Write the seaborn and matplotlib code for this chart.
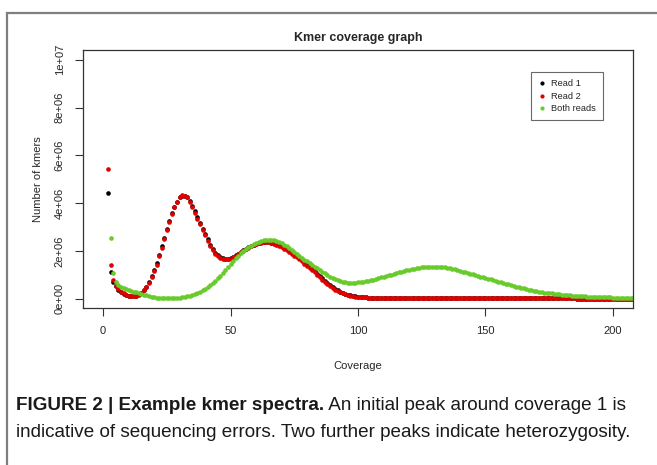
import pandas as pd
import seaborn as sns
import matplotlib.pyplot as plt
from matplotlib import font_manager
from matplotlib.patches import Rectangle
from matplotlib.lines import Line2D

# kmer counts (millions) per coverage value
cov_reads = list(range(2, 209))
cov_both = list(range(3, 209))

tail_reads = [
    0.03, 0.03, 0.03, 0.03, 0.03, 0.03, 0.03, 0.03, 0.03, 0.03,
    0.03, 0.03, 0.03, 0.03, 0.02, 0.02, 0.02, 0.02, 0.02, 0.02,
    0.02, 0.02, 0.02, 0.02, 0.02, 0.02, 0.02, 0.02, 0.02, 0.02,
    0.02, 0.02, 0.02, 0.02, 0.02, 0.02, 0.02, 0.02, 0.02, 0.02,
    0.02, 0.02, 0.02, 0.02, 0.02, 0.02, 0.02, 0.02, 0.02, 0.02,
    0.02, 0.02, 0.02, 0.02, 0.02, 0.02, 0.02, 0.02, 0.02, 0.02,
    0.02, 0.02, 0.02, 0.02, 0.02, 0.02, 0.02, 0.02, 0.02, 0.02,
    0.02, 0.02, 0.02, 0.02, 0.01, 0.01, 0.01, 0.01, 0.01, 0.01,
    0.01, 0.01, 0.01, 0.01, 0.01, 0.01, 0.01, 0.01, 0.01, 0.01,
    0.01, 0.01, 0.01, 0.01, 0.01, 0.01, 0.01,
]

read1 = [
    4.43, 1.10, 0.72, 0.52, 0.38, 0.28, 0.21, 0.15, 0.12, 0.10,
    0.10, 0.13, 0.18, 0.26, 0.37, 0.51, 0.69, 0.94, 1.20, 1.49,
    1.83, 2.19, 2.56, 2.91, 3.25, 3.57, 3.84, 4.07, 4.24, 4.32,
    4.31, 4.25, 4.09, 3.89, 3.66, 3.41, 3.18, 2.94, 2.70, 2.48,
    2.27, 2.08, 1.93, 1.82, 1.74, 1.69, 1.67, 1.67, 1.70, 1.75,
    1.82, 1.89, 1.96, 2.03, 2.10, 2.16, 2.22, 2.27, 2.31, 2.34,
    2.36, 2.38, 2.38, 2.37, 2.35, 2.33, 2.29, 2.25, 2.20, 2.14,
    2.07, 2.00, 1.93, 1.86, 1.78, 1.70, 1.61, 1.52, 1.43, 1.34,
    1.25, 1.15, 1.05, 0.95, 0.85, 0.76, 0.66, 0.57, 0.49, 0.41,
    0.35, 0.29, 0.24, 0.20, 0.16, 0.14, 0.12, 0.10, 0.08, 0.07,
    0.06, 0.06, 0.05, 0.05, 0.04, 0.04, 0.04, 0.04, 0.04, 0.03,
] + tail_reads

read2 = [
    5.43, 1.42, 0.80, 0.55, 0.40, 0.30, 0.22, 0.16, 0.12, 0.10,
    0.10, 0.12, 0.17, 0.24, 0.35, 0.48, 0.65, 0.90, 1.15, 1.43,
    1.77, 2.13, 2.51, 2.86, 3.21, 3.54, 3.82, 4.06, 4.24, 4.33,
    4.31, 4.24, 4.06, 3.85, 3.61, 3.35, 3.13, 2.89, 2.65, 2.43,
    2.22, 2.04, 1.89, 1.79, 1.72, 1.67, 1.65, 1.65, 1.68, 1.73,
    1.80, 1.87, 1.94, 2.01, 2.08, 2.14, 2.20, 2.25, 2.29, 2.33,
    2.35, 2.37, 2.37, 2.36, 2.34, 2.31, 2.27, 2.22, 2.16, 2.10,
    2.03, 1.96, 1.89, 1.81, 1.73, 1.65, 1.56, 1.47, 1.38, 1.29,
    1.20, 1.10, 1.00, 0.90, 0.80, 0.71, 0.62, 0.53, 0.45, 0.38,
    0.32, 0.27, 0.22, 0.18, 0.15, 0.13, 0.11, 0.09, 0.08, 0.07,
    0.06, 0.06, 0.05, 0.05, 0.04, 0.04, 0.04, 0.04, 0.04, 0.03,
] + tail_reads

both = [
    2.55, 1.08, 0.72, 0.58, 0.50, 0.45, 0.40, 0.36, 0.33, 0.30,
    0.27, 0.23, 0.20, 0.17, 0.14, 0.11, 0.09, 0.07, 0.05, 0.04,
    0.03, 0.02, 0.02, 0.02, 0.02, 0.03, 0.04, 0.05, 0.06, 0.08,
    0.10, 0.12, 0.15, 0.19, 0.24, 0.30, 0.36, 0.42, 0.50, 0.58,
    0.67, 0.76, 0.86, 0.96, 1.08, 1.20, 1.32, 1.45, 1.58, 1.70,
    1.81, 1.92, 2.01, 2.09, 2.16, 2.22, 2.28, 2.33, 2.37, 2.41,
    2.44, 2.46, 2.47, 2.47, 2.45, 2.42, 2.38, 2.33, 2.27, 2.20,
    2.13, 2.05, 1.97, 1.89, 1.81, 1.72, 1.64, 1.56, 1.48, 1.41,
    1.34, 1.27, 1.20, 1.13, 1.06, 0.99, 0.93, 0.87, 0.82, 0.78,
    0.74, 0.71, 0.69, 0.67, 0.66, 0.66, 0.67, 0.68, 0.69, 0.71,
    0.73, 0.75, 0.77, 0.80, 0.83, 0.86, 0.89, 0.92, 0.95, 0.98,
    1.01, 1.04, 1.07, 1.10, 1.13, 1.16, 1.19, 1.22, 1.24, 1.26,
    1.28, 1.30, 1.31, 1.32, 1.33, 1.34, 1.34, 1.34, 1.34, 1.33,
    1.32, 1.31, 1.29, 1.27, 1.25, 1.23, 1.20, 1.17, 1.14, 1.11,
    1.08, 1.05, 1.02, 0.99, 0.96, 0.93, 0.90, 0.87, 0.84, 0.81,
    0.78, 0.75, 0.72, 0.69, 0.66, 0.63, 0.60, 0.57, 0.54, 0.51,
    0.48, 0.46, 0.43, 0.41, 0.38, 0.36, 0.34, 0.32, 0.30, 0.28,
    0.26, 0.25, 0.23, 0.22, 0.20, 0.19, 0.18, 0.17, 0.16, 0.15,
    0.14, 0.13, 0.12, 0.12, 0.11, 0.10, 0.10, 0.09, 0.09, 0.08,
    0.08, 0.07, 0.07, 0.07, 0.06, 0.06, 0.06, 0.05, 0.05, 0.05,
    0.05, 0.04, 0.04, 0.04, 0.04, 0.04,
]

series_names = ['Read 1', 'Read 2', 'Both reads']
series_colors = ['#000000', '#e00000', '#68cb2c']
y_ticks = [0, 2, 4, 6, 8, 10]
y_tick_labels = ['0e+00', '2e+06', '4e+06', '6e+06', '8e+06', '1e+07']
x_ticks = [0, 50, 100, 150, 200]

caption_bold = 'FIGURE 2 | Example kmer spectra.'
caption_rest1 = ' An initial peak around coverage 1 is'
caption_line2 = 'indicative of sequencing errors. Two further peaks indicate heterozygosity.'


def pick_font(families):
    for f in families:
        try:
            font_manager.findfont(font_manager.FontProperties(family=f), fallback_to_default=False)
            return f
        except ValueError:
            pass
    return 'DejaVu Sans'


sns.set_style('white')
font = pick_font(['Liberation Sans Narrow', 'Liberation Sans'])
plt.rcParams['font.family'] = [font, 'DejaVu Sans']

df = pd.concat([
    pd.DataFrame({'Coverage': cov_reads, 'Count': read1, 'Series': series_names[0]}),
    pd.DataFrame({'Coverage': cov_reads, 'Count': read2, 'Series': series_names[1]}),
    pd.DataFrame({'Coverage': cov_both, 'Count': both, 'Series': series_names[2]}),
])

fig = plt.figure(figsize=(6.57, 4.65), dpi=100)
ax = fig.add_axes([0.1259, 0.3370, 0.8381, 0.5548])

for name, col in zip(series_names, series_colors):
    sub = df[df['Series'] == name]
    sns.scatterplot(data=sub, x='Coverage', y='Count', color=col, s=11,
                    linewidth=0, ax=ax, legend=False)

ax.set_xlim(-8, 208)
ax.set_ylim(-0.4, 10.4)
ax.set_xticks(x_ticks)
ax.set_xticklabels([str(t) for t in x_ticks])
ax.set_yticks(y_ticks)
ax.set_yticklabels(y_tick_labels, rotation=90, va='center')
ax.tick_params(direction='out', length=6, width=0.8, color='#333333',
               labelsize=8, pad=7, left=True, bottom=True)
for sp in ax.spines.values():
    sp.set_color('#333333')
    sp.set_linewidth(0.9)

ax.set_title('Kmer coverage graph', fontsize=9, fontweight='bold', pad=7)
ax.set_xlabel('Coverage', fontsize=8)
ax.set_ylabel('Number of kmers', fontsize=8)
ax.xaxis.set_label_coords(0.5, -0.2236)
ax.xaxis.label.set_va('center')
ax.yaxis.set_label_coords(-0.0812, 0.5)
ax.yaxis.label.set_va('center')

handles = [Line2D([], [], marker='o', linestyle='', markersize=3,
                  markerfacecolor=c, markeredgewidth=0) for c in series_colors]
leg = ax.legend(handles, series_names, loc='upper right',
                bbox_to_anchor=(0.9455, 0.9147), borderaxespad=0,
                fontsize=6.7, frameon=True, fancybox=False,
                handlelength=0.8, handletextpad=0.6, labelspacing=0.38,
                borderpad=0.75)
leg.get_frame().set_edgecolor('#444444')
leg.get_frame().set_linewidth(0.8)

# outer panel frame
fig.add_artist(Rectangle((7 / 657, -0.2), 1.2, 0.2 + 1 - 13 / 465,
                         transform=fig.transFigure, fill=False,
                         edgecolor='#7f7f7f', linewidth=1.6, clip_on=False))

t1 = fig.text(16 / 657, 1 - 405 / 465, caption_bold, fontsize=13.6,
              fontweight='bold', va='center', ha='left', color='#1a1a1a')
ax.annotate(caption_rest1, xy=(1, 0.5), xycoords=t1, va='center', ha='left',
            fontsize=13.6, color='#1a1a1a', annotation_clip=False)
fig.text(16 / 657, 1 - 432 / 465, caption_line2, fontsize=13.6,
         va='center', ha='left', color='#1a1a1a')

fig.savefig('out.png', dpi=100)
